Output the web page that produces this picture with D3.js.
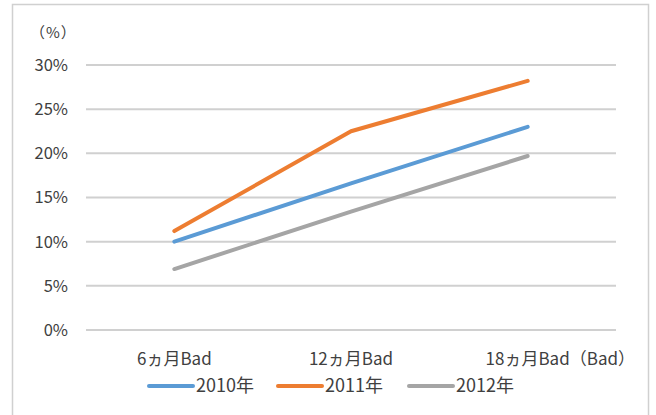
<!DOCTYPE html>
<html><head><meta charset="utf-8">
<script src="https://cdn.jsdelivr.net/npm/d3@7"></script>
<style>
body{margin:0;background:#fff;}
text{font-family:"Noto Sans CJK JP","Noto Sans",sans-serif;fill:#404040;}
</style></head>
<body><svg id="c" width="656" height="415"></svg>
<script>
const categories = ["6ヵ月Bad", "12ヵ月Bad", "18ヵ月Bad"];
const lastSuffix = "（Bad）";
const seriesNames = ["2010年", "2011年", "2012年"];
const s2010 = [10.0, 16.6, 23.0];
const s2011 = [11.2, 22.5, 28.2];
const s2012 = [6.9, 13.4, 19.7];
const yTicks = [0, 5, 10, 15, 20, 25, 30];
const colors = ["#5B9BD5", "#ED7D31", "#A5A5A5"];
const unitLabel = "（%）";

const svg = d3.select("#c");
// frame
svg.append("rect").attr("x",12.5).attr("y",4.5).attr("width",636).attr("height",420)
  .attr("fill","none").attr("stroke","#d0d0d0").attr("stroke-width",1.5);

const x = d3.scaleBand().domain(categories).range([86,616]);
const y = d3.scaleLinear().domain([0,30]).range([330,65]);

// gridlines
svg.append("g").selectAll("line").data(yTicks).join("line")
  .attr("x1",86).attr("x2",616).attr("y1",d=>y(d)).attr("y2",d=>y(d))
  .attr("stroke","#d0d0d0").attr("stroke-width",2);

// y labels
svg.append("g").selectAll("text").data(yTicks).join("text")
  .attr("x",68).attr("y",d=>y(d)).attr("dy","0.36em").attr("text-anchor","end")
  .attr("font-size",16.5).text(d=>d+"%");

svg.append("text").attr("x",30).attr("y",38).attr("font-size",15).attr("letter-spacing",1).text(unitLabel);

// x labels
const xl = svg.append("g");
categories.forEach((c,i)=>{
  const t = xl.append("text").attr("x",x(c)+x.bandwidth()/2).attr("y",365)
    .attr("text-anchor","middle").attr("font-size",17).text(c);
  if(i===categories.length-1){
    const w = t.node().getComputedTextLength();
    xl.append("text").attr("x",x(c)+x.bandwidth()/2+w/2).attr("y",365)
      .attr("font-size",17).text(lastSuffix);
  }
});

const series = [s2010, s2011, s2012];
const line = d3.line().x((d,i)=>x(categories[i])+x.bandwidth()/2).y(d=>y(d));
series.forEach((s,k)=>{
  svg.append("path").datum(s).attr("d",line).attr("fill","none")
    .attr("stroke",colors[k]).attr("stroke-width",4).attr("stroke-linecap","round")
    .attr("stroke-linejoin","round");
});

// legend
const lx = [149, 278, 409];
seriesNames.forEach((n,k)=>{
  svg.append("line").attr("x1",lx[k]).attr("x2",lx[k]+44).attr("y1",386).attr("y2",386)
    .attr("stroke",colors[k]).attr("stroke-width",4).attr("stroke-linecap","round");
  svg.append("text").attr("x",lx[k]+47).attr("y",386).attr("dy","0.36em")
    .attr("font-size",18).attr("fill","#262626").text(n);
});
</script></body></html>
